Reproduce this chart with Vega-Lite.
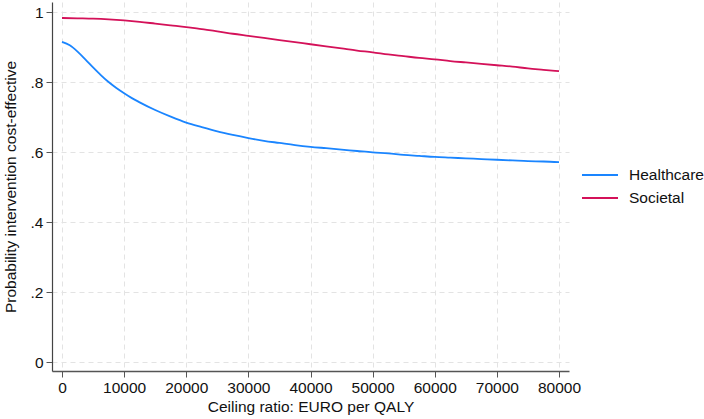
{
  "$schema": "https://vega.github.io/schema/vega-lite/v6.json",
  "autosize": "none",
  "width": 517,
  "height": 369,
  "padding": {"left": 52, "top": 2, "right": 135, "bottom": 48},
  "background": "white",
  "config": {
    "view": {"stroke": null},
    "font": "Liberation Sans"
  },
  "data": {
    "values": [
      {"x": 0, "p": 0.915, "s": "Healthcare"},
      {"x": 1250, "p": 0.905, "s": "Healthcare"},
      {"x": 2500, "p": 0.887, "s": "Healthcare"},
      {"x": 3750, "p": 0.865, "s": "Healthcare"},
      {"x": 5000, "p": 0.842, "s": "Healthcare"},
      {"x": 6250, "p": 0.820, "s": "Healthcare"},
      {"x": 7500, "p": 0.800, "s": "Healthcare"},
      {"x": 8750, "p": 0.783, "s": "Healthcare"},
      {"x": 10000, "p": 0.768, "s": "Healthcare"},
      {"x": 11250, "p": 0.754, "s": "Healthcare"},
      {"x": 12500, "p": 0.742, "s": "Healthcare"},
      {"x": 15000, "p": 0.720, "s": "Healthcare"},
      {"x": 17500, "p": 0.701, "s": "Healthcare"},
      {"x": 20000, "p": 0.684, "s": "Healthcare"},
      {"x": 22500, "p": 0.671, "s": "Healthcare"},
      {"x": 25000, "p": 0.659, "s": "Healthcare"},
      {"x": 27500, "p": 0.649, "s": "Healthcare"},
      {"x": 30000, "p": 0.640, "s": "Healthcare"},
      {"x": 32500, "p": 0.632, "s": "Healthcare"},
      {"x": 35000, "p": 0.626, "s": "Healthcare"},
      {"x": 37500, "p": 0.620, "s": "Healthcare"},
      {"x": 40000, "p": 0.615, "s": "Healthcare"},
      {"x": 42500, "p": 0.611, "s": "Healthcare"},
      {"x": 45000, "p": 0.607, "s": "Healthcare"},
      {"x": 47500, "p": 0.603, "s": "Healthcare"},
      {"x": 50000, "p": 0.599, "s": "Healthcare"},
      {"x": 52500, "p": 0.596, "s": "Healthcare"},
      {"x": 55000, "p": 0.592, "s": "Healthcare"},
      {"x": 57500, "p": 0.589, "s": "Healthcare"},
      {"x": 60000, "p": 0.586, "s": "Healthcare"},
      {"x": 62500, "p": 0.584, "s": "Healthcare"},
      {"x": 65000, "p": 0.582, "s": "Healthcare"},
      {"x": 67500, "p": 0.580, "s": "Healthcare"},
      {"x": 70000, "p": 0.578, "s": "Healthcare"},
      {"x": 72500, "p": 0.576, "s": "Healthcare"},
      {"x": 75000, "p": 0.574, "s": "Healthcare"},
      {"x": 77500, "p": 0.573, "s": "Healthcare"},
      {"x": 80000, "p": 0.571, "s": "Healthcare"},
      {"x": 0, "p": 0.983, "s": "Societal"},
      {"x": 2500, "p": 0.982, "s": "Societal"},
      {"x": 5000, "p": 0.981, "s": "Societal"},
      {"x": 7500, "p": 0.979, "s": "Societal"},
      {"x": 10000, "p": 0.976, "s": "Societal"},
      {"x": 12500, "p": 0.972, "s": "Societal"},
      {"x": 15000, "p": 0.967, "s": "Societal"},
      {"x": 17500, "p": 0.962, "s": "Societal"},
      {"x": 20000, "p": 0.957, "s": "Societal"},
      {"x": 22500, "p": 0.951, "s": "Societal"},
      {"x": 25000, "p": 0.945, "s": "Societal"},
      {"x": 27500, "p": 0.938, "s": "Societal"},
      {"x": 30000, "p": 0.932, "s": "Societal"},
      {"x": 32500, "p": 0.926, "s": "Societal"},
      {"x": 35000, "p": 0.920, "s": "Societal"},
      {"x": 37500, "p": 0.914, "s": "Societal"},
      {"x": 40000, "p": 0.908, "s": "Societal"},
      {"x": 42500, "p": 0.902, "s": "Societal"},
      {"x": 45000, "p": 0.896, "s": "Societal"},
      {"x": 47500, "p": 0.890, "s": "Societal"},
      {"x": 50000, "p": 0.885, "s": "Societal"},
      {"x": 52500, "p": 0.879, "s": "Societal"},
      {"x": 55000, "p": 0.874, "s": "Societal"},
      {"x": 57500, "p": 0.869, "s": "Societal"},
      {"x": 60000, "p": 0.865, "s": "Societal"},
      {"x": 62500, "p": 0.860, "s": "Societal"},
      {"x": 65000, "p": 0.856, "s": "Societal"},
      {"x": 67500, "p": 0.852, "s": "Societal"},
      {"x": 70000, "p": 0.848, "s": "Societal"},
      {"x": 72500, "p": 0.844, "s": "Societal"},
      {"x": 75000, "p": 0.839, "s": "Societal"},
      {"x": 77500, "p": 0.835, "s": "Societal"},
      {"x": 80000, "p": 0.831, "s": "Societal"}
    ]
  },
  "mark": {"type": "line", "strokeWidth": 1.8, "interpolate": "monotone"},
  "encoding": {
    "x": {
      "field": "x",
      "type": "quantitative",
      "scale": {"domain": [-1610, 81610], "nice": false, "zero": false},
      "axis": {
        "values": [0, 10000, 20000, 30000, 40000, 50000, 60000, 70000, 80000],
        "format": "d",
        "title": "Ceiling ratio: EURO per QALY",
        "titleFont": "Liberation Sans",
        "titleFontSize": 15.5,
        "titleFontWeight": "normal",
        "titleColor": "#111111",
        "titlePadding": 4,
        "labelFont": "Liberation Sans",
        "labelFontSize": 15.5,
        "labelColor": "#111111",
        "labelPadding": 3,
        "tickSize": 6,
        "tickColor": "#555555",
        "domainColor": "#555555",
        "domainWidth": 1.3,
        "grid": true,
        "gridColor": "#e3e3e3",
        "gridDash": [5, 4],
        "gridWidth": 1,
        "labelFlush": false
      }
    },
    "y": {
      "field": "p",
      "type": "quantitative",
      "scale": {"domain": [-0.0257, 1.0287], "nice": false, "zero": false},
      "axis": {
        "values": [0, 0.2, 0.4, 0.6, 0.8, 1],
        "labelExpr": "replace(format(datum.value, '.1~f'), '0.', '.')",
        "title": "Probability intervention cost-effective",
        "titleFont": "Liberation Sans",
        "titleFontSize": 15.5,
        "titleFontWeight": "normal",
        "titleColor": "#111111",
        "titlePadding": 12,
        "labelFont": "Liberation Sans",
        "labelFontSize": 15.5,
        "labelColor": "#111111",
        "labelPadding": 3,
        "labelAngle": 0,
        "tickSize": 6,
        "tickColor": "#555555",
        "domainColor": "#444444",
        "domainWidth": 1.2,
        "grid": true,
        "gridColor": "#e3e3e3",
        "gridDash": [5, 4],
        "gridWidth": 1,
        "labelFlush": false
      }
    },
    "color": {
      "field": "s",
      "type": "nominal",
      "scale": {"domain": ["Healthcare", "Societal"], "range": ["#1a85ff", "#d41159"]},
      "legend": {
        "title": null,
        "orient": "none",
        "legendX": 538,
        "legendY": 163,
        "padding": 0,
        "symbolType": "M-2,0H2",
        "symbolSize": 324,
        "symbolStrokeWidth": 1.8,
        "symbolFillColor": "transparent",
        "labelFont": "Liberation Sans",
        "labelFontSize": 15.5,
        "labelColor": "#111111",
        "labelOffset": 19,
        "rowPadding": 4
      }
    }
  }
}
